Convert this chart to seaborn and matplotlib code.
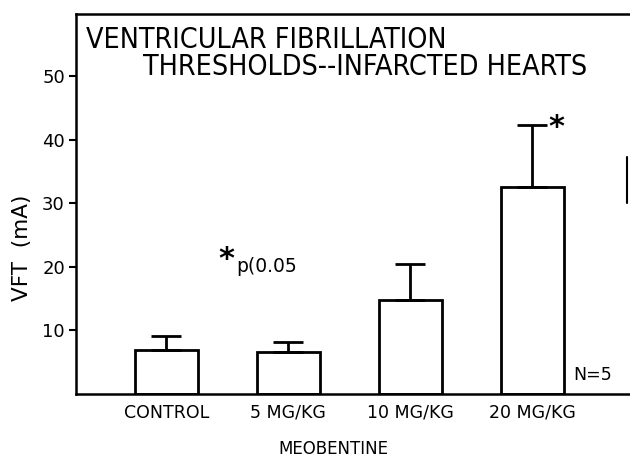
import matplotlib
matplotlib.use("Agg")
import matplotlib.pyplot as plt
import seaborn as sns
import pandas as pd
from matplotlib.lines import Line2D

# values
groups = ["CONTROL", "5 MG/KG", "10 MG/KG", "20 MG/KG"]
vft_mean = [6.9, 6.6, 14.8, 32.6]
vft_err = [2.2, 1.6, 5.7, 9.8]
yticks = [10, 20, 30, 40, 50]

df = pd.DataFrame({"dose": groups, "vft": vft_mean})

sns.set_theme(style="ticks")
plt.rcParams["font.family"] = ["DejaVu Sans"]

W, H = 630, 461
fig = plt.figure(figsize=(W / 100, H / 100), dpi=100)
ax = fig.add_axes([76 / W, 1 - 394 / H, (W - 76) / W, (394 - 14) / H])

sns.barplot(data=df, x="dose", y="vft", color="white", saturation=1,
            edgecolor="black", linewidth=2, width=0.52, errorbar=None, ax=ax)
ax.errorbar(range(len(groups)), vft_mean, yerr=[[0] * len(groups), vft_err],
            fmt="none", ecolor="black", elinewidth=2, capsize=10.5, capthick=2, zorder=1)

ax.set_xlim(-0.74, 3.8)
ax.set_ylim(0, 59.8)
ax.set_yticks(yticks)
ax.tick_params(axis="y", direction="out", length=5, width=1.5, labelsize=13, colors="black", pad=3)
ax.tick_params(axis="x", length=0, labelsize=12.5, pad=7, colors="black")
for s in ["left", "bottom", "top"]:
    ax.spines[s].set_linewidth(1.8)
    ax.spines[s].set_color("black")
ax.spines["right"].set_visible(False)

ax.set_xlabel("MEOBENTINE", fontsize=12, color="black", va="top")
ax.xaxis.set_label_coords(0.464, -0.121)
ax.set_ylabel("VFT  (mA)", fontsize=15.5, color="black")
ax.yaxis.set_label_coords(-0.08, 0.384)

tfont = dict(fontsize=20.5, color="black", fontstretch="condensed")
fig.text(86 / W, 1 - 48 / H, "VENTRICULAR FIBRILLATION", va="baseline", ha="left", **tfont)
fig.text(143 / W, 1 - 75 / H, "THRESHOLDS--INFARCTED HEARTS", va="baseline", ha="left", **tfont)

fig.text(218 / W, 1 - 268 / H, "*", fontsize=22, fontweight="bold", va="baseline", ha="left", color="black")
fig.text(236 / W, 1 - 272 / H, "p(0.05", fontsize=13.5, va="baseline", ha="left", color="black")
fig.text(548 / W, 1 - 136 / H, "*", fontsize=22, fontweight="bold", va="baseline", ha="left", color="black")
fig.text(573 / W, 1 - 380 / H, "N=5", fontsize=12.5, va="baseline", ha="left", color="black")

# small stray vertical stroke at the right edge
fig.add_artist(Line2D([627 / W, 627 / W], [1 - 157 / H, 1 - 203 / H], color="black", lw=1.5))

fig.savefig("out.png", dpi=100)
